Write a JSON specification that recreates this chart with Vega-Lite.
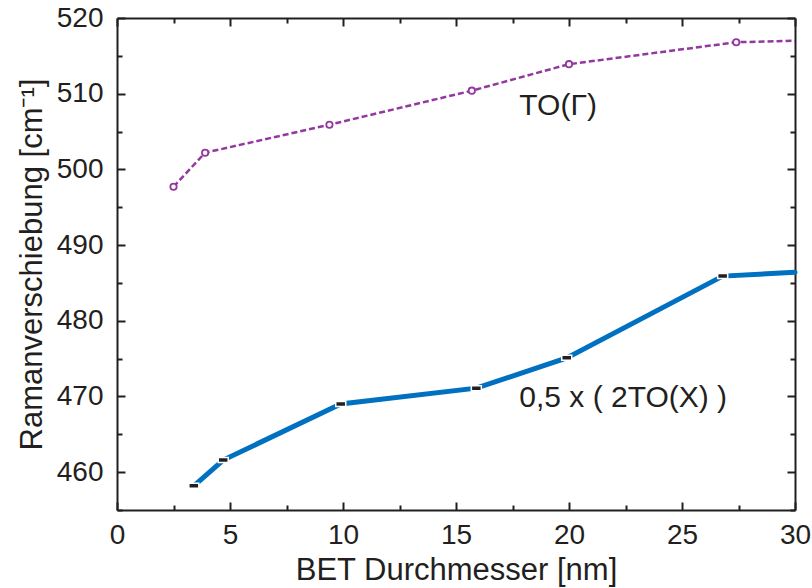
{
  "$schema": "https://vega.github.io/schema/vega-lite/v6.json",
  "width": 678,
  "height": 492,
  "autosize": {"type": "none"},
  "padding": {"left": 117, "top": 18, "right": 17, "bottom": 78},
  "background": "white",
  "config": {
    "view": {"stroke": null},
    "font": "Liberation Sans",
    "axis": {
      "domainColor": "#231f20", "domainWidth": 2, "tickColor": "#231f20", "tickWidth": 2, "ticks": true,
      "grid": false, "labelFont": "Liberation Sans", "labelFontSize": 28, "labelColor": "#231f20", "labelFlush": false,
      "titleFont": "Liberation Sans", "titleFontSize": 31, "titleFontWeight": "normal", "titleColor": "#231f20"
    }
  },
  "datasets": {
    "pts": [
      {"s": "TO", "d": 2.5, "r": 497.7, "m": true},
      {"s": "TO", "d": 3.9, "r": 502.2, "m": true},
      {"s": "TO", "d": 9.4, "r": 505.9, "m": true},
      {"s": "TO", "d": 15.7, "r": 510.4, "m": true},
      {"s": "TO", "d": 20.0, "r": 513.9, "m": true},
      {"s": "TO", "d": 27.4, "r": 516.8, "m": true},
      {"s": "TO", "d": 30.0, "r": 517.0, "m": false},
      {"s": "2TO", "d": 3.4, "r": 458.2, "m": true},
      {"s": "2TO", "d": 4.7, "r": 461.6, "m": true},
      {"s": "2TO", "d": 9.9, "r": 469.0, "m": true},
      {"s": "2TO", "d": 15.9, "r": 471.1, "m": true},
      {"s": "2TO", "d": 19.9, "r": 475.1, "m": true},
      {"s": "2TO", "d": 26.8, "r": 485.9, "m": true},
      {"s": "2TO", "d": 30.0, "r": 486.4, "m": false}
    ],
    "labels": [
      {"d": 17.8, "r": 508.4, "t": "TO(Γ)"},
      {"d": 17.8, "r": 469.8, "t": "0,5 x ( 2TO(X) )"}
    ]
  },
  "layer": [
    {
      "data": {"name": "pts"},
      "transform": [{"filter": "datum.s == 'TO'"}],
      "mark": {"type": "line", "color": "#93389E", "strokeWidth": 2.5, "strokeDash": [6, 3]},
      "encoding": {
        "x": {"field": "d", "type": "quantitative", "scale": {"domain": [0, 30], "nice": false},
          "axis": {"orient": "bottom", "values": [0, 5, 10, 15, 20, 25, 30], "tickSize": -8, "labelPadding": 19, "title": "BET Durchmesser [nm]", "titlePadding": 6}},
        "y": {"field": "r", "type": "quantitative", "scale": {"domain": [455, 520], "nice": false, "zero": false},
          "axis": {"orient": "left", "values": [460, 470, 480, 490, 500, 510, 520], "tickSize": -8, "labelPadding": 22, "title": "Ramanverschiebung  [cm⁻¹]", "titlePadding": 8}}
      }
    },
    {
      "data": {"name": "pts"},
      "transform": [{"filter": "datum.s == 'TO' && datum.m"}],
      "mark": {"type": "point", "shape": "circle", "size": 40, "filled": true, "fill": "white", "stroke": "#93389E", "strokeWidth": 1.8, "opacity": 1},
      "encoding": {
        "x": {"field": "d", "type": "quantitative", "scale": {"domain": [0, 30], "nice": false},
          "axis": {"orient": "top", "values": [0, 5, 10, 15, 20, 25, 30], "tickSize": -8, "labels": false, "title": null}},
        "y": {"field": "r", "type": "quantitative", "scale": {"domain": [455, 520], "nice": false, "zero": false},
          "axis": {"orient": "right", "values": [460, 470, 480, 490, 500, 510, 520], "tickSize": -8, "labels": false, "title": null}}
      }
    },
    {
      "data": {"name": "pts"},
      "transform": [{"filter": "datum.s == '2TO'"}],
      "mark": {"type": "line", "color": "#0070C0", "strokeWidth": 5, "strokeCap": "round"},
      "encoding": {
        "x": {"field": "d", "type": "quantitative", "scale": {"domain": [0, 30], "nice": false},
          "axis": {"orient": "bottom", "values": [2.5, 7.5, 12.5, 17.5, 22.5, 27.5], "tickSize": -5, "labels": false, "domain": false, "title": null}},
        "y": {"field": "r", "type": "quantitative", "scale": {"domain": [455, 520], "nice": false, "zero": false},
          "axis": {"orient": "left", "values": [455, 465, 475, 485, 495, 505, 515], "tickSize": -5, "labels": false, "domain": false, "title": null}}
      }
    },
    {
      "data": {"name": "pts"},
      "transform": [{"filter": "datum.s == '2TO' && datum.m"}],
      "mark": {"type": "point", "shape": "M-1,-0.5H1V0.5H-1Z", "size": 100, "filled": true, "fill": "#231f20", "stroke": "white", "strokeWidth": 1.5, "opacity": 1},
      "encoding": {
        "x": {"field": "d", "type": "quantitative", "scale": {"domain": [0, 30], "nice": false},
          "axis": {"orient": "top", "values": [2.5, 7.5, 12.5, 17.5, 22.5, 27.5], "tickSize": -5, "labels": false, "domain": false, "title": null}},
        "y": {"field": "r", "type": "quantitative", "scale": {"domain": [455, 520], "nice": false, "zero": false},
          "axis": {"orient": "right", "values": [455, 465, 475, 485, 495, 505, 515], "tickSize": -5, "labels": false, "domain": false, "title": null}}
      }
    },
    {
      "data": {"name": "labels"},
      "mark": {"type": "text", "align": "left", "baseline": "middle", "fontSize": 30, "font": "Liberation Sans", "color": "#231f20"},
      "encoding": {
        "x": {"field": "d", "type": "quantitative", "axis": null},
        "y": {"field": "r", "type": "quantitative", "axis": null},
        "text": {"field": "t"}
      }
    }
  ],
  "resolve": {"axis": {"x": "independent", "y": "independent"}}
}
